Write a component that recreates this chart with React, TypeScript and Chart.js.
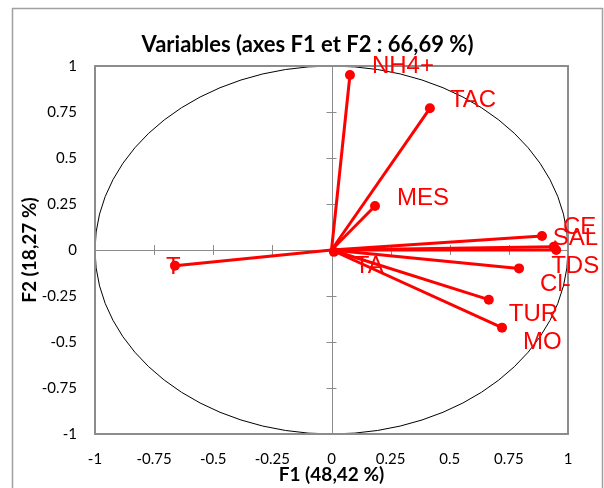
import React, { useEffect, useRef } from "react";
import { Chart, registerables } from "chart.js";

Chart.register(...registerables);

// ---- Data ----
const variables = ["NH4+", "TAC", "MES", "CE", "SAL", "TDS", "Cl-", "TUR", "MO", "TA", "T"];
const f1Values = [0.078, 0.416, 0.184, 0.89, 0.94, 0.95, 0.793, 0.665, 0.721, 0.01, -0.662];
const f2Values = [0.951, 0.77, 0.239, 0.076, 0.018, 0.0, -0.1, -0.27, -0.422, -0.01, -0.085];
const tickValues = [-1, -0.75, -0.5, -0.25, 0, 0.25, 0.5, 0.75, 1];

const chartTitle = "Variables (axes F1 et F2 : 66,69 %)";
const xTitle = "F1 (48,42 %)";
const yTitle = "F2 (18,27 %)";

// ---- Layout / style (label placement, in px relative to the point) ----
const labelOffsets: Record<string, [number, number]> = {
  "NH4+": [22, -11],
  TAC: [20, -10],
  MES: [22, -10],
  CE: [21, -11],
  SAL: [-1, -10],
  TDS: [-5, 14],
  "Cl-": [21, 14],
  TUR: [20, 13],
  MO: [21, 13],
  TA: [21, 13],
  T: [-9, 0],
};

const RED = "#ff0000";
const AXIS_GREY = "#8c8c8c";

const decorPlugin = {
  id: "decor",
  beforeDatasetsDraw(chart: any) {
    const { ctx, chartArea: a, scales } = chart;
    const xs = scales.x;
    const ys = scales.y;
    const cx = xs.getPixelForValue(0);
    const cy = ys.getPixelForValue(0);
    ctx.save();
    // correlation circle (unit circle in data space)
    const rx = Math.abs(xs.getPixelForValue(1) - cx);
    const ry = Math.abs(ys.getPixelForValue(1) - cy);
    ctx.beginPath();
    ctx.ellipse(cx, cy, rx, ry, 0, 0, Math.PI * 2);
    ctx.strokeStyle = "#000";
    ctx.lineWidth = 1;
    ctx.stroke();
    // zero axes
    ctx.strokeStyle = AXIS_GREY;
    ctx.lineWidth = 1;
    ctx.beginPath();
    ctx.moveTo(a.left, Math.round(cy) + 0.5);
    ctx.lineTo(a.right, Math.round(cy) + 0.5);
    ctx.moveTo(Math.round(cx) + 0.5, a.top);
    ctx.lineTo(Math.round(cx) + 0.5, a.bottom);
    for (const v of tickValues) {
      if (v === 0 || Math.abs(v) === 1) continue;
      const px = Math.round(xs.getPixelForValue(v)) + 0.5;
      ctx.moveTo(px, cy - 5);
      ctx.lineTo(px, cy + 5);
      const py = Math.round(ys.getPixelForValue(v)) + 0.5;
      ctx.moveTo(cx - 5, py);
      ctx.lineTo(cx + 5, py);
    }
    ctx.stroke();
    // plot border
    ctx.lineWidth = 2;
    ctx.strokeStyle = AXIS_GREY;
    ctx.strokeRect(a.left, a.top, a.right - a.left, a.bottom - a.top);
    ctx.restore();
  },
  afterDatasetsDraw(chart: any) {
    const { ctx, scales } = chart;
    ctx.save();
    ctx.fillStyle = RED;
    ctx.font = "24px 'Liberation Sans'";
    ctx.textAlign = "left";
    ctx.textBaseline = "alphabetic";
    variables.forEach((name, i) => {
      const px = scales.x.getPixelForValue(f1Values[i]);
      const py = scales.y.getPixelForValue(f2Values[i]);
      const off = labelOffsets[name] || [20, -10];
      ctx.fillText(name, px + off[0], py + off[1] + 8.5);
    });
    ctx.restore();
  },
  afterDraw(chart: any) {
    const { ctx, chartArea: a } = chart;
    ctx.save();
    ctx.fillStyle = "#000";
    ctx.textAlign = "center";
    ctx.textBaseline = "middle";
    ctx.font = "bold 22px Lato";
    ctx.fillText(chartTitle, 307.5, 45);
    ctx.font = "bold 19px Lato";
    ctx.fillText(xTitle, (a.left + a.right) / 2, 475);
    ctx.save();
    ctx.translate(30, (a.top + a.bottom) / 2);
    ctx.rotate(-Math.PI / 2);
    ctx.fillText(yTitle, 0, 0);
    ctx.restore();
    // outer chart border
    ctx.strokeStyle = "#a0a0a0";
    ctx.lineWidth = 1.5;
    ctx.beginPath();
    ctx.moveTo(12.5, 492);
    ctx.lineTo(12.5, 8.5);
    ctx.lineTo(602.5, 8.5);
    ctx.lineTo(602.5, 492);
    ctx.stroke();
    ctx.restore();
  },
};

export default function App() {
  const canvasRef = useRef<HTMLCanvasElement | null>(null);

  useEffect(() => {
    if (!canvasRef.current) return;
    const datasets = variables.map((name, i) => ({
      label: name,
      data: [
        { x: 0, y: 0 },
        { x: f1Values[i], y: f2Values[i] },
      ],
      showLine: true,
      borderColor: RED,
      borderWidth: 3,
      pointRadius: [0, 5],
      pointHoverRadius: [0, 5],
      pointBackgroundColor: RED,
      pointBorderWidth: 0,
      clip: false as any,
    }));

    const tickOpts = {
      color: "#000",
      font: { family: "Lato", size: 15 },
      callback: (v: any) => String(v),
    };

    const chart = new Chart(canvasRef.current, {
      type: "scatter",
      data: { datasets },
      options: {
        animation: false,
        responsive: false,
        events: [],
        layout: { padding: { left: 0, right: 36, top: 66, bottom: 0 } },
        plugins: { legend: { display: false }, tooltip: { enabled: false }, title: { display: false } },
        scales: {
          x: {
            type: "linear",
            min: -1,
            max: 1,
            grid: { display: false, drawTicks: false },
            border: { display: false },
            ticks: { ...tickOpts, padding: 16, maxRotation: 0, autoSkip: false },
            afterBuildTicks: (s: any) => {
              s.ticks = tickValues.map((v) => ({ value: v }));
            },
            afterFit: (s: any) => {
              s.height = 54;
            },
          },
          y: {
            type: "linear",
            min: -1,
            max: 1,
            grid: { display: false, drawTicks: false },
            border: { display: false },
            ticks: { ...tickOpts, padding: 18, autoSkip: false },
            afterBuildTicks: (s: any) => {
              s.ticks = tickValues.map((v) => ({ value: v }));
            },
            afterFit: (s: any) => {
              s.width = 95;
            },
          },
        },
      },
      plugins: [decorPlugin],
    });
    return () => chart.destroy();
  }, []);

  return (
    <div style={{ position: "absolute", left: 0, top: 0, width: 604, height: 488, background: "#fff" }}>
      <canvas ref={canvasRef} width={604} height={488} style={{ display: "block" }} />
    </div>
  );
}
